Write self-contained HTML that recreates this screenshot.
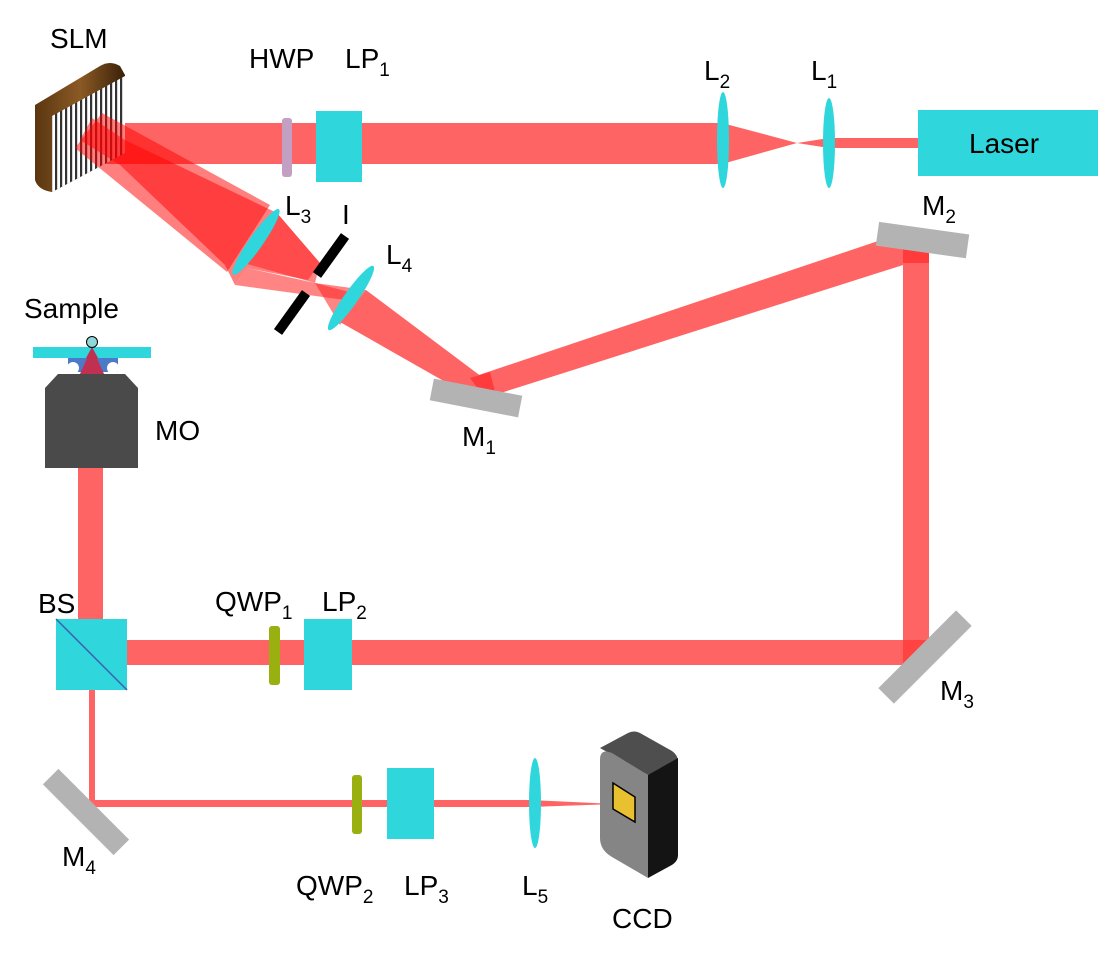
<!DOCTYPE html>
<html><head><meta charset="utf-8"><style>
html,body{margin:0;padding:0;background:#fff;}
svg{display:block;}
text{font-family:"Liberation Sans",sans-serif;font-size:28px;fill:#000;}
.s{font-size:19px;}
</style></head><body>
<svg width="1107" height="965" viewBox="0 0 1107 965" xmlns="http://www.w3.org/2000/svg">
<defs>
<linearGradient id="br" x1="0" y1="0" x2="1" y2="0"><stop offset="0" stop-color="#5a3610"/><stop offset="0.5" stop-color="#8b5a25"/><stop offset="1" stop-color="#3a2008"/></linearGradient>
<pattern id="st" width="5" height="10" patternUnits="userSpaceOnUse"><rect width="5" height="10" fill="#fff"/><rect width="2.2" height="10" fill="#333"/></pattern>
</defs>
<!-- main beam -->
<rect x="100" y="123" width="622" height="41" fill="#ff6464"/>
<polygon points="722,123 797,143 722,164" fill="#ff6464"/>
<polygon points="797,143 829,138 829,148" fill="#ff6464"/>
<rect x="829" y="138" width="90" height="10" fill="#ff6464"/>
<!-- SLM -->
<path d="M35,105 L100,66 Q110,60 120,66 L125,75 L125,153 L52,192 Q38,190 35,180 Z" fill="url(#br)"/>
<polygon points="52,116 125,76 125,153 52,192" fill="url(#st)"/>
<!-- diffracted beams -->
<g fill="#ff0000" fill-opacity="0.5">
<polygon points="102,113 270,205 227,272 75,148"/>
<polygon points="92,118 125,140 277,213 320,263 308,280 247,268 235,285 225,265 120,165 80,140"/>
</g>
<g fill="#ff2020" fill-opacity="0.55">
<polygon points="277,213 320,263 315,283 240,262"/>
<polygon points="235,285 247,268 315,283 353,293 345,300"/>
<polygon points="315,283 366,290 340,325"/>
</g>
<polygon points="366,290 490,383 470,396 340,322" fill="#ff6464"/>
<!-- M1 to M2 -->
<polygon points="470,378 905,232 925,258 485,398" fill="#ff6464"/>
<polygon points="470,378 490,372 495,392 485,398" fill="#ff2020" fill-opacity="0.6"/>
<!-- vertical right -->
<rect x="903" y="245" width="26" height="412" fill="#ff6464"/>
<rect x="903" y="245" width="26" height="18" fill="#ff2020" fill-opacity="0.6"/>
<!-- horizontal lower -->
<rect x="127" y="640" width="802" height="25" fill="#ff6464"/>
<polygon points="903,640 929,640 903,665" fill="#ff2020" fill-opacity="0.5"/>
<!-- vertical MO -->
<rect x="78" y="468" width="25" height="151" fill="#ff6464"/>
<!-- thin -->
<rect x="89" y="690" width="6" height="115" fill="#ff6464"/>
<rect x="89" y="800" width="441" height="7" fill="#ff6464"/>
<polygon points="530,800 615,804 530,807" fill="#ff6464"/>
<!-- optics -->
<rect x="282" y="118" width="10" height="59" rx="3" fill="#c49fc4"/>
<rect x="316" y="111" width="46" height="71" fill="#2fd6dc"/>
<ellipse cx="723" cy="140" rx="6" ry="48" fill="#2fd6dc"/>
<ellipse cx="829" cy="143" rx="6" ry="45" fill="#2fd6dc"/>
<rect x="918" y="110" width="180" height="66" fill="#2fd6dc"/>
<text x="969" y="153">Laser</text>
<ellipse cx="256" cy="242" rx="7" ry="40" fill="#2fd6dc" transform="rotate(35 256 242)"/>
<ellipse cx="351" cy="298" rx="7" ry="39" fill="#2fd6dc" transform="rotate(35 351 298)"/>
<line x1="317" y1="275" x2="345" y2="236" stroke="#000" stroke-width="10"/>
<line x1="278" y1="332" x2="306" y2="293" stroke="#000" stroke-width="10"/>
<rect x="431" y="387" width="90" height="22" fill="#b3b3b3" transform="rotate(11 476 398)"/>
<rect x="877" y="228" width="91" height="24" fill="#b3b3b3" transform="rotate(8 922 240)"/>
<rect x="870" y="646" width="110" height="22" fill="#b3b3b3" transform="rotate(-45 925 657)"/>
<rect x="36" y="801" width="100" height="22" fill="#b3b3b3" transform="rotate(45 86 812)"/>
<!-- sample/MO -->
<path d="M68,357 L118,357 L118,372 L68,372 Z" fill="#4a7ac8"/>
<circle cx="73" cy="368" r="6" fill="#fff"/><circle cx="113" cy="368" r="6" fill="#fff"/>
<polygon points="92,347 80,374 104,374" fill="#c03050"/>
<rect x="33" y="347" width="118" height="11" fill="#2fd6dc"/>
<polygon points="92,347 86,358 98,358" fill="#c03050"/>
<circle cx="92" cy="342" r="5.5" fill="#90d8d8" stroke="#000" stroke-width="1"/>
<polygon points="58,374 125,374 138,388 138,468 45,468 45,388" fill="#4a4a4a"/>
<!-- BS -->
<rect x="56" y="619" width="71" height="71" fill="#2fd6dc"/>
<line x1="56" y1="619" x2="127" y2="690" stroke="#3a60b0" stroke-width="1.5"/>
<rect x="269" y="626" width="11" height="59" rx="3" fill="#9aaf10"/>
<rect x="304" y="619" width="48" height="71" fill="#2fd6dc"/>
<rect x="352" y="775" width="10" height="59" rx="3" fill="#9aaf10"/>
<rect x="387" y="768" width="47" height="71" fill="#2fd6dc"/>
<ellipse cx="535" cy="803" rx="6" ry="45" fill="#2fd6dc"/>
<!-- CCD -->
<path d="M600,748 L628,733 Q634,730 640,733 L672,751 Q678,755 678,762 L648,775 Z" fill="#4e4e4e"/>
<path d="M648,775 L678,758 L678,855 Q678,862 670,866 L648,878 Z" fill="#141414"/>
<path d="M600,760 Q600,748 612,753 L648,775 L648,878 L612,857 Q600,850 600,838 Z" fill="#858585"/>
<polygon points="613,783 635,797 635,822 613,809" fill="#e8c030" stroke="#000" stroke-width="1.5"/>
<!-- labels -->
<text x="50" y="48">SLM</text>
<text x="249" y="68">HWP</text>
<text x="345" y="68">LP<tspan class="s" dy="8">1</tspan></text>
<text x="704" y="80">L<tspan class="s" dy="8">2</tspan></text>
<text x="811" y="80">L<tspan class="s" dy="8">1</tspan></text>
<text x="285" y="215">L<tspan class="s" dy="8">3</tspan></text>
<text x="342" y="224">I</text>
<text x="386" y="264">L<tspan class="s" dy="8">4</tspan></text>
<text x="922" y="215">M<tspan class="s" dy="8">2</tspan></text>
<text x="24" y="318">Sample</text>
<text x="155" y="440">MO</text>
<text x="462" y="446">M<tspan class="s" dy="8">1</tspan></text>
<text x="38" y="613">BS</text>
<text x="215" y="611">QWP<tspan class="s" dy="8">1</tspan></text>
<text x="322" y="611">LP<tspan class="s" dy="8">2</tspan></text>
<text x="940" y="700">M<tspan class="s" dy="8">3</tspan></text>
<text x="62" y="866">M<tspan class="s" dy="8">4</tspan></text>
<text x="296" y="895">QWP<tspan class="s" dy="8">2</tspan></text>
<text x="404" y="895">LP<tspan class="s" dy="8">3</tspan></text>
<text x="522" y="895">L<tspan class="s" dy="8">5</tspan></text>
<text x="612" y="928">CCD</text>
</svg>
</body></html>
